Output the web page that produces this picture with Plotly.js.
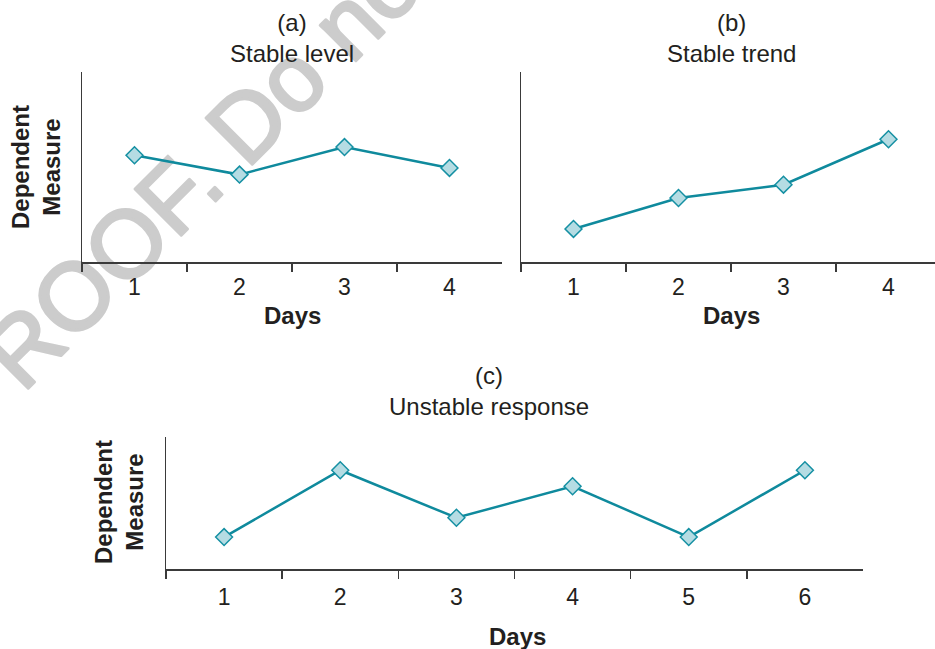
<!DOCTYPE html>
<html>
<head>
<meta charset="utf-8">
<script src="https://cdn.plot.ly/plotly-3.0.1.min.js"></script>
<style>
  html, body { margin: 0; padding: 0; background: #ffffff; }
  #wrap { position: relative; width: 935px; height: 649px; overflow: hidden; }
  #mark { position: absolute; left: 0; top: 0; z-index: 0; }
  #chart { position: absolute; left: 0; top: 0; z-index: 1; width: 935px; height: 649px; }
</style>
</head>
<body>
<div id="wrap">
  <svg id="mark" width="935" height="649">
    <text id="marktext" x="-22" y="438.5" transform="rotate(-45 -22 438.5)"
          font-family="Liberation Sans, Arial, Helvetica, sans-serif" font-size="95"
          fill="#cccccc" stroke="#cccccc" stroke-width="3" stroke-linejoin="round">PROOF. Do not</text>
  </svg>
  <div id="chart"></div>
</div>
<script>
// ---- data ----
const daysA = ['1', '2', '3', '4'];
const measureA = [5.62, 4.6, 6.05, 4.95];

const daysB = ['1', '2', '3', '4'];
const measureB = [1.74, 3.37, 4.07, 6.46];

const daysC = ['1', '2', '3', '4', '5', '6'];
const measureC = [2.42, 7.48, 3.88, 6.27, 2.42, 7.48];

const panelTitles = ['(a)<br>Stable level', '(b)<br>Stable trend', '(c)<br>Unstable response'];
const xTitle = 'Days';
const yTitle = 'Dependent<br>Measure';

// ---- styling ----
const W = 935, H = 649;
const px = v => v / W;
const py = v => 1 - v / H;
const FONT = 'Liberation Sans, Arial, Helvetica, sans-serif';
const TEXT = '#231f20';
const AXIS = '#3a3a3a';
const LINE = '#0f8a9d';
const FILL = '#b5dce3';

function trace(x, y, xa, ya) {
  return {
    x: x, y: y, xaxis: xa, yaxis: ya, type: 'scatter', mode: 'lines+markers',
    line: { color: LINE, width: 2.5 },
    marker: { symbol: 'diamond', size: 13, color: FILL, line: { color: '#1590a3', width: 1.5 } },
    hoverinfo: 'skip', showlegend: false, cliponaxis: false
  };
}

function xax(domain, range, anchor, standoff) {
  return {
    type: 'category', domain: domain, range: range, anchor: anchor,
    showline: true, linecolor: AXIS, linewidth: 1.5,
    ticks: 'outside', ticklen: 8, tickwidth: 1.5, tickcolor: AXIS,
    tickson: 'boundaries', showgrid: false, zeroline: false,
    ticklabelstandoff: standoff,
    tickfont: { family: FONT, size: 23, color: TEXT }, fixedrange: true
  };
}
function yax(domain, anchor) {
  return {
    domain: domain, range: [0, 10], anchor: anchor,
    showline: true, linecolor: AXIS, linewidth: 1.5,
    ticks: '', showticklabels: false, showgrid: false, zeroline: false, fixedrange: true
  };
}

function ann(text, x, y, opts) {
  return Object.assign({
    text: text, x: px(x), y: py(y), xref: 'paper', yref: 'paper',
    xanchor: 'center', yanchor: 'middle', showarrow: false,
    font: { family: FONT, size: 24, color: TEXT }
  }, opts || {});
}

const data = [
  trace(daysA, measureA, 'x', 'y'),
  trace(daysB, measureB, 'x2', 'y2'),
  trace(daysC, measureC, 'x3', 'y3')
];

const layout = {
  width: W, height: H,
  margin: { l: 0, r: 0, t: 0, b: 0 },
  paper_bgcolor: 'rgba(0,0,0,0)', plot_bgcolor: 'rgba(0,0,0,0)',
  font: { family: FONT, color: TEXT },
  showlegend: false,
  xaxis: xax([px(82), px(502)], [-0.5, 3.5], 'y', 4),
  yaxis: yax([py(262), py(72)], 'x'),
  xaxis2: xax([px(521), 1], [-0.5, -0.5 + 414 / 105], 'y2', 4),
  yaxis2: yax([py(262), py(72)], 'x2'),
  xaxis3: xax([px(166), px(863)], [-0.5, 5.5], 'y3', 7),
  yaxis3: yax([py(569), py(437)], 'x3'),
  annotations: [
    ann(panelTitles[0], 292, 38),
    ann(panelTitles[1], 731, 38),
    ann(panelTitles[2], 489, 391),
    ann('<b>' + xTitle + '</b>', 292, 315),
    ann('<b>' + xTitle + '</b>', 731, 315),
    ann('<b>' + xTitle + '</b>', 517, 636),
    ann('<b>' + yTitle + '</b>', 36, 167, { textangle: -90 }),
    ann('<b>' + yTitle + '</b>', 119, 502, { textangle: -90 })
  ]
};

Plotly.newPlot('chart', data, layout, { staticPlot: true, displayModeBar: false });
</script>
</body>
</html>
